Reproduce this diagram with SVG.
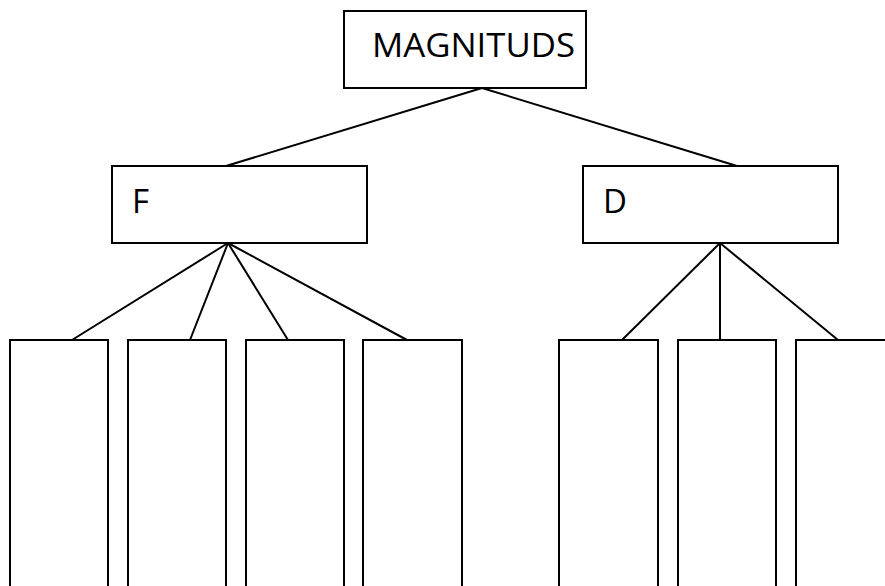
<svg xmlns="http://www.w3.org/2000/svg" width="885" height="586" viewBox="0 0 885 586">
  <style>
    .box { fill: #fff; stroke: #000; stroke-width: 2; }
    .link { stroke: #000; stroke-width: 2; fill: none; }
    .label { font-family: "Open Sans", "DejaVu Sans", sans-serif; font-size: 33px; fill: #000; }
  </style>
  <rect width="885" height="586" fill="#fff"/>

  <g id="connectors">
    <line class="link" x1="482" y1="88" x2="226" y2="166"/>
    <line class="link" x1="482" y1="88" x2="737" y2="166"/>
    <line class="link" x1="228" y1="243" x2="72" y2="340"/>
    <line class="link" x1="228" y1="243" x2="190" y2="340"/>
    <line class="link" x1="228" y1="243" x2="288" y2="340"/>
    <line class="link" x1="228" y1="243" x2="407" y2="340"/>
    <line class="link" x1="720" y1="243" x2="622" y2="340"/>
    <line class="link" x1="720" y1="243" x2="720" y2="340"/>
    <line class="link" x1="720" y1="243" x2="838" y2="340"/>
  </g>

  <g id="magnituds">
    <rect class="box" x="344" y="11" width="242" height="77"/>
    <text class="label" x="372" y="57" textLength="203" lengthAdjust="spacingAndGlyphs">MAGNITUDS</text>
  </g>

  <g id="f">
    <rect class="box" x="112" y="166" width="255" height="77"/>
    <text class="label" x="132" y="213">F</text>
  </g>

  <g id="d">
    <rect class="box" x="583" y="166" width="255" height="77"/>
    <text class="label" x="603" y="213">D</text>
  </g>

  <g id="f1"><rect class="box" x="10" y="340" width="98" height="260"/></g>
  <g id="f2"><rect class="box" x="128" y="340" width="98" height="260"/></g>
  <g id="f3"><rect class="box" x="246" y="340" width="98" height="260"/></g>
  <g id="f4"><rect class="box" x="363" y="340" width="99" height="260"/></g>
  <g id="d1"><rect class="box" x="559" y="340" width="99" height="260"/></g>
  <g id="d2"><rect class="box" x="678" y="340" width="98" height="260"/></g>
  <g id="d3"><rect class="box" x="796" y="340" width="110" height="260"/></g>
</svg>
